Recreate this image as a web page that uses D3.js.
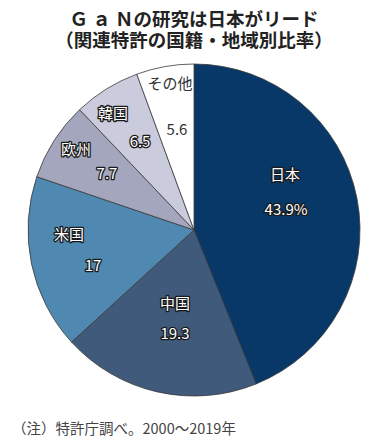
<!DOCTYPE html>
<html><head><meta charset="utf-8">
<script src="https://cdn.jsdelivr.net/npm/d3@7"></script>
<style>
html,body{margin:0;padding:0;background:#fff;}
svg{display:block;font-family:"Noto Sans CJK JP","Noto Sans",sans-serif;}
</style></head><body>
<script>
const categories = ["日本","中国","米国","欧州","韓国","その他"];
const values = [43.9, 19.3, 17, 7.7, 6.5, 5.6];
const valueLabels = ["43.9%","19.3","17","7.7","6.5","5.6"];
const colors = ["#073867","#405a7c","#4f88b0","#a3a6bc","#cacbdc","#ffffff"];
const titleLines = ["Ｇ ａ Ｎの研究は日本がリード","（関連特許の国籍・地域別比率）"];
const note = "（注）特許庁調べ。2000～2019年";

const W=389,H=446;
const svg=d3.select("body").append("svg").attr("width",W).attr("height",H);
const cx=194, cy=230, R=166;

const pie=d3.pie().sort(null).value(d=>d)(values);
const arc=d3.arc().innerRadius(0).outerRadius(R);
const g=svg.append("g").attr("transform",`translate(${cx},${cy})`);
g.selectAll("path").data(pie).join("path")
 .attr("d",arc).attr("fill",(d,i)=>colors[i])
 .attr("stroke","#3a3a3a").attr("stroke-width",0.8);

// label placement: angular offset (deg) from slice mid-angle, radius fraction
const nameOff=[-21,2,10.5,2.2,-2.6,0.9];
const nameR=[0.647,0.449,0.753,0.866,0.862,0.903];
const valOff=[-2.4,-2.3,-7.2,1.1,0.9,0.6];
const valR=[0.57,0.631,0.644,0.63,0.632,0.623];
function pos(d,r,offDeg){
  const a=(d.startAngle+d.endAngle)/2 + offDeg*Math.PI/180;
  return [Math.sin(a)*r*R, -Math.cos(a)*r*R];
}

const lbl=g.append("g");
pie.forEach((d,i)=>{
  const dark = i===5;
  const [nx,ny]=pos(d,nameR[i],nameOff[i]);
  const [vx,vy]=pos(d,valR[i],valOff[i]);
  [[categories[i],nx,ny],[valueLabels[i],vx,vy]].forEach(([t,x,y])=>{
    lbl.append("text").attr("x",x).attr("y",y).attr("text-anchor","middle")
      .attr("dominant-baseline","central")
      .attr("font-size",15)
      .attr("fill",dark?"#333":"#fff")
      .attr("stroke",dark?"none":"#1a1a1a").attr("stroke-width",dark?0:2.6)
      .attr("stroke-linejoin","round").attr("paint-order","stroke")
      .text(t);
  });
});

const title=svg.append("text").attr("text-anchor","middle")
 .attr("font-size",18.5).attr("font-weight","bold").attr("fill","#222");
title.selectAll("tspan").data(titleLines).join("tspan")
 .attr("x",194).attr("y",(d,i)=>26+i*21).text(d=>d);
svg.append("text").attr("x",12).attr("y",434).attr("font-size",14.5)
 .attr("fill","#444").text(note);
</script>
</body></html>
